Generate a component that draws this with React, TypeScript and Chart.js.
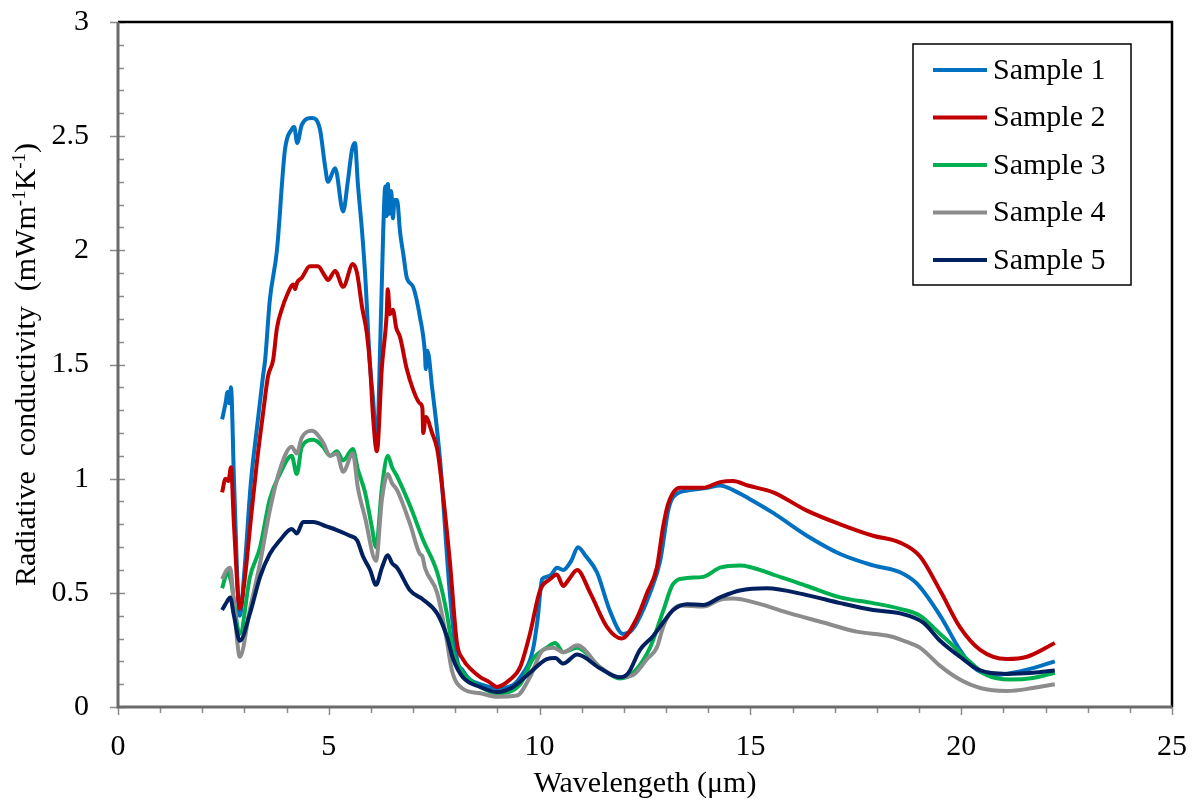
import React, { useEffect, useRef } from "react";
import { Chart, registerables } from "chart.js";

Chart.register(...registerables);

const FONT = "'Liberation Serif', 'Times New Roman', serif";

const seriesNames = ["Sample 1", "Sample 2", "Sample 3", "Sample 4", "Sample 5"];
const seriesColors = ["#0070C0", "#C00000", "#00B050", "#8C8C8C", "#002060"];

const xTitle = "Wavelengeth (μm)";
const yTitleParts: [string, boolean][] = [
  ["Radiative  conductivity  (mWm", false],
  ["-1", true],
  ["K", false],
  ["-1", true],
  [")", false],
];

const wl1 = [2.47, 2.55, 2.6, 2.64, 2.68, 2.75, 2.89, 3.0, 3.15, 3.3, 3.44, 3.49, 3.6, 3.77, 3.96, 4.12, 4.18, 4.25, 4.36, 4.6, 4.79, 4.91, 4.98, 5.15, 5.34, 5.45, 5.55, 5.62, 5.69, 5.79, 5.86, 5.98, 6.05, 6.14, 6.2, 6.29, 6.34, 6.37, 6.4, 6.44, 6.48, 6.52, 6.56, 6.62, 6.69, 6.77, 6.85, 7.0, 7.16, 7.28, 7.3, 7.34, 7.45, 7.64, 7.87, 8.04, 8.18, 8.35, 8.59, 8.99, 9.3, 9.54, 9.84, 9.95, 10.06, 10.17, 10.28, 10.41, 10.56, 10.75, 10.91, 11.1, 11.36, 11.67, 11.98, 12.15, 12.31, 12.62, 12.86, 13.05, 13.17, 13.57, 13.97, 14.28, 14.59, 14.99, 15.54, 16.34, 17.13, 17.91, 18.55, 18.95, 19.5, 19.97, 20.28, 20.76, 21.32, 21.7, 22.22];
const val1 = [1.26, 1.33, 1.38, 1.33, 1.40, 1.0, 0.40, 0.60, 0.98, 1.23, 1.45, 1.52, 1.78, 2.0, 2.44, 2.53, 2.54, 2.47, 2.55, 2.58, 2.53, 2.37, 2.30, 2.36, 2.17, 2.30, 2.44, 2.47, 2.29, 2.08, 1.90, 1.49, 1.35, 1.13, 1.45, 2.08, 2.28, 2.15, 2.29, 2.16, 2.26, 2.14, 2.22, 2.22, 2.08, 1.98, 1.88, 1.84, 1.71, 1.55, 1.48, 1.56, 1.40, 1.08, 0.50, 0.21, 0.16, 0.12, 0.10, 0.083, 0.09, 0.13, 0.25, 0.38, 0.56, 0.57, 0.58, 0.61, 0.60, 0.64, 0.70, 0.66, 0.59, 0.42, 0.32, 0.33, 0.37, 0.50, 0.64, 0.86, 0.92, 0.95, 0.96, 0.97, 0.95, 0.91, 0.85, 0.75, 0.67, 0.62, 0.59, 0.54, 0.40, 0.25, 0.175, 0.14, 0.153, 0.17, 0.20];

const wl2 = [2.47, 2.55, 2.62, 2.68, 2.75, 2.89, 3.0, 3.15, 3.3, 3.45, 3.56, 3.68, 3.77, 3.9, 4.0, 4.16, 4.2, 4.25, 4.36, 4.55, 4.74, 4.9, 4.98, 5.15, 5.34, 5.57, 5.67, 5.79, 5.9, 5.98, 6.05, 6.14, 6.26, 6.37, 6.4, 6.45, 6.52, 6.6, 6.69, 6.85, 7.0, 7.16, 7.22, 7.24, 7.3, 7.45, 7.57, 7.64, 7.87, 8.04, 8.18, 8.4, 8.6, 8.8, 8.99, 9.3, 9.54, 9.77, 10.01, 10.25, 10.41, 10.56, 10.7, 10.89, 11.2, 11.6, 11.95, 12.31, 12.55, 12.78, 12.93, 13.05, 13.33, 13.88, 14.28, 14.59, 14.94, 15.54, 16.34, 17.13, 17.91, 18.55, 19.02, 19.5, 19.97, 20.45, 21.08, 21.56, 22.22];
const val2 = [0.94, 1.0, 0.99, 1.05, 0.80, 0.43, 0.55, 0.82, 1.08, 1.30, 1.45, 1.52, 1.66, 1.75, 1.80, 1.85, 1.83, 1.86, 1.88, 1.93, 1.93, 1.89, 1.87, 1.91, 1.84, 1.94, 1.90, 1.75, 1.64, 1.49, 1.27, 1.12, 1.49, 1.71, 1.83, 1.72, 1.74, 1.66, 1.62, 1.48, 1.39, 1.33, 1.31, 1.20, 1.27, 1.20, 1.13, 1.04, 0.64, 0.28, 0.21, 0.16, 0.13, 0.11, 0.088, 0.12, 0.175, 0.32, 0.51, 0.56, 0.58, 0.53, 0.56, 0.60, 0.50, 0.35, 0.30, 0.39, 0.50, 0.61, 0.79, 0.89, 0.96, 0.96, 0.985, 0.99, 0.97, 0.94, 0.86, 0.80, 0.75, 0.72, 0.66, 0.51, 0.35, 0.25, 0.21, 0.22, 0.28];

const wl3 = [2.47, 2.6, 2.68, 2.89, 3.13, 3.37, 3.6, 3.84, 4.12, 4.24, 4.36, 4.63, 4.86, 5.03, 5.19, 5.34, 5.57, 5.69, 5.86, 6.02, 6.12, 6.26, 6.4, 6.5, 6.62, 6.93, 7.24, 7.57, 7.8, 7.95, 8.18, 8.59, 8.99, 9.54, 9.84, 10.17, 10.37, 10.56, 10.89, 11.43, 11.9, 12.22, 12.62, 12.93, 13.17, 13.5, 13.88, 14.28, 14.75, 15.54, 16.34, 17.13, 17.91, 18.55, 19.02, 19.5, 19.74, 20.13, 20.6, 21.16, 21.7, 22.22];
const val3 = [0.52, 0.59, 0.55, 0.32, 0.57, 0.70, 0.91, 1.02, 1.10, 1.02, 1.14, 1.17, 1.14, 1.10, 1.12, 1.08, 1.13, 1.04, 0.94, 0.79, 0.70, 0.96, 1.10, 1.05, 1.01, 0.88, 0.73, 0.59, 0.41, 0.24, 0.15, 0.088, 0.06, 0.10, 0.21, 0.26, 0.28, 0.24, 0.26, 0.175, 0.125, 0.15, 0.26, 0.42, 0.54, 0.565, 0.57, 0.61, 0.62, 0.58, 0.53, 0.48, 0.455, 0.43, 0.40, 0.32, 0.28, 0.21, 0.14, 0.12, 0.127, 0.15];

const wl4 = [2.47, 2.58, 2.66, 2.75, 2.89, 3.13, 3.37, 3.6, 3.84, 4.12, 4.24, 4.36, 4.6, 4.86, 5.03, 5.19, 5.34, 5.57, 5.69, 5.86, 6.12, 6.26, 6.4, 6.5, 6.62, 6.93, 7.16, 7.22, 7.28, 7.57, 7.8, 7.92, 8.18, 8.59, 8.99, 9.46, 9.77, 10.08, 10.33, 10.56, 10.89, 11.43, 11.9, 12.22, 12.55, 12.78, 12.93, 13.09, 13.33, 13.88, 14.28, 14.59, 15.15, 15.94, 16.73, 17.52, 18.31, 18.71, 19.02, 19.5, 19.97, 20.45, 21.08, 21.7, 22.22];
const val4 = [0.56, 0.60, 0.61, 0.45, 0.22, 0.43, 0.63, 0.86, 1.04, 1.14, 1.11, 1.18, 1.21, 1.16, 1.10, 1.11, 1.03, 1.11, 0.96, 0.83, 0.64, 0.91, 1.02, 0.98, 0.95, 0.80, 0.67, 0.66, 0.61, 0.50, 0.29, 0.16, 0.08, 0.06, 0.045, 0.05, 0.13, 0.25, 0.26, 0.24, 0.27, 0.175, 0.13, 0.14, 0.21, 0.26, 0.35, 0.41, 0.445, 0.44, 0.47, 0.475, 0.455, 0.41, 0.37, 0.33, 0.31, 0.285, 0.26, 0.18, 0.12, 0.083, 0.07, 0.083, 0.10];

const wl5 = [2.47, 2.58, 2.66, 2.75, 2.89, 3.13, 3.37, 3.6, 3.84, 4.12, 4.24, 4.39, 4.63, 4.96, 5.19, 5.5, 5.67, 5.81, 5.98, 6.12, 6.26, 6.4, 6.5, 6.62, 6.93, 7.24, 7.57, 7.8, 7.95, 8.18, 8.59, 8.99, 9.37, 9.77, 10.17, 10.37, 10.56, 10.89, 11.43, 11.9, 12.1, 12.38, 12.69, 12.93, 13.17, 13.5, 13.88, 14.28, 14.75, 15.39, 16.34, 17.13, 17.91, 18.55, 19.1, 19.5, 19.97, 20.45, 21.08, 21.7, 22.22];
const val5 = [0.425, 0.46, 0.48, 0.40, 0.29, 0.41, 0.57, 0.67, 0.73, 0.78, 0.76, 0.81, 0.81, 0.79, 0.775, 0.75, 0.73, 0.66, 0.60, 0.535, 0.61, 0.665, 0.63, 0.61, 0.51, 0.47, 0.41, 0.31, 0.21, 0.13, 0.088, 0.066, 0.088, 0.15, 0.21, 0.215, 0.19, 0.23, 0.17, 0.13, 0.148, 0.25, 0.31, 0.37, 0.425, 0.45, 0.447, 0.48, 0.51, 0.52, 0.49, 0.455, 0.425, 0.41, 0.37, 0.29, 0.22, 0.16, 0.145, 0.15, 0.16];

const framePlugin = {
  id: "frame",
  afterDraw(chart: any) {
    const { ctx, chartArea } = chart;
    const { left, right, top, bottom } = chartArea;
    const xs = chart.scales.x;
    const ys = chart.scales.y;
    ctx.save();
    // ticks
    ctx.strokeStyle = "#8c8c8c";
    ctx.lineWidth = 1.5;
    ctx.beginPath();
    for (let i = 0; i <= 30; i++) {
      const py = Math.round(ys.getPixelForValue(i / 10)) + 0.5;
      if (i % 5 === 0) {
        ctx.moveTo(left - 8, py);
        ctx.lineTo(left + 7, py);
      } else {
        ctx.moveTo(left, py);
        ctx.lineTo(left + 6, py);
      }
    }
    for (let i = 0; i <= 25; i++) {
      const px = Math.round(xs.getPixelForValue(i)) + 0.5;
      ctx.moveTo(px, bottom);
      ctx.lineTo(px, bottom + (i % 5 === 0 ? 8 : 6));
    }
    ctx.stroke();
    // frame: top/right black
    ctx.strokeStyle = "#000";
    ctx.lineWidth = 2.5;
    ctx.beginPath();
    ctx.moveTo(left, top);
    ctx.lineTo(right, top);
    ctx.lineTo(right, bottom);
    ctx.stroke();
    // axes: left/bottom gray
    ctx.strokeStyle = "#6a6a6a";
    ctx.lineWidth = 3;
    ctx.beginPath();
    ctx.moveTo(left, top);
    ctx.lineTo(left, bottom);
    ctx.lineTo(right, bottom);
    ctx.stroke();

    // x title
    ctx.fillStyle = "#000";
    ctx.font = `30px ${FONT}`;
    ctx.textAlign = "center";
    ctx.textBaseline = "alphabetic";
    ctx.fillText(xTitle, (left + right) / 2, 792);

    // y title with superscripts
    ctx.save();
    ctx.translate(26, (top + bottom) / 2);
    ctx.rotate(-Math.PI / 2);
    const mainFont = `30px ${FONT}`;
    const supFont = `19px ${FONT}`;
    let total = 0;
    for (const [t, sup] of yTitleParts) {
      ctx.font = sup ? supFont : mainFont;
      total += ctx.measureText(t).width;
    }
    let cx = -total / 2;
    ctx.textAlign = "left";
    ctx.textBaseline = "alphabetic";
    for (const [t, sup] of yTitleParts) {
      ctx.font = sup ? supFont : mainFont;
      ctx.fillText(t, cx, sup ? -1 : 9);
      cx += ctx.measureText(t).width;
    }
    ctx.restore();

    // legend
    const lx = 913, ly = 44, lw = 218, lh = 241;
    ctx.fillStyle = "#fff";
    ctx.fillRect(lx, ly, lw, lh);
    ctx.strokeStyle = "#000";
    ctx.lineWidth = 1.5;
    ctx.strokeRect(lx, ly, lw, lh);
    ctx.font = `30px ${FONT}`;
    ctx.textAlign = "left";
    ctx.textBaseline = "middle";
    seriesNames.forEach((name, i) => {
      const yy = 70 + i * 47.5;
      ctx.strokeStyle = seriesColors[i];
      ctx.lineWidth = 4;
      ctx.beginPath();
      ctx.moveTo(933, yy);
      ctx.lineTo(987, yy);
      ctx.stroke();
      ctx.fillStyle = "#000";
      ctx.fillText(name, 993, yy + 1);
    });
    ctx.restore();
  },
};

export default function App() {
  const ref = useRef<HTMLCanvasElement>(null);
  useEffect(() => {
    document.body.style.margin = "0";
    const canvas = ref.current;
    if (!canvas) return;
    const series: [number[], number[]][] = [
      [wl1, val1],
      [wl2, val2],
      [wl3, val3],
      [wl4, val4],
      [wl5, val5],
    ];
    const chart = new Chart(canvas, {
      type: "line",
      data: {
        datasets: series.map(([xs, ys], i) => ({
          label: seriesNames[i],
          data: xs.map((x, j) => ({ x, y: ys[j] })),
          borderColor: seriesColors[i],
          backgroundColor: seriesColors[i],
          borderWidth: 4,
          pointRadius: 0,
          cubicInterpolationMode: "monotone" as const,
          fill: false,
          order: 5 - i,
        })),
      },
      options: {
        responsive: false,
        animation: false,
        devicePixelRatio: 1,
        layout: { padding: { top: 22, right: 26, left: 0, bottom: 0 } },
        plugins: { legend: { display: false }, tooltip: { enabled: false } },
        scales: {
          x: {
            type: "linear",
            min: 0,
            max: 25,
            ticks: {
              stepSize: 5,
              autoSkip: false,
              maxRotation: 0,
              color: "#000",
              font: { family: FONT, size: 30 },
              padding: 22,
            },
            grid: { display: false, drawTicks: false, tickLength: 0 },
            border: { display: false },
            afterFit: (s: any) => {
              s.height = 95;
              s.paddingLeft = 0;
              s.paddingRight = 0;
            },
          },
          y: {
            type: "linear",
            min: 0,
            max: 3,
            ticks: {
              stepSize: 0.5,
              color: "#000",
              font: { family: FONT, size: 30 },
              padding: 29,
              callback: (v: any) => String(Number(v)),
            },
            grid: { display: false, drawTicks: false, tickLength: 0 },
            border: { display: false },
            afterFit: (s: any) => {
              s.width = 118;
              s.paddingTop = 0;
              s.paddingBottom = 0;
            },
          },
        },
      },
      plugins: [framePlugin],
    });
    return () => chart.destroy();
  }, []);
  return (
    <div style={{ width: 1198, height: 802 }}>
      <canvas ref={ref} width={1198} height={802} />
    </div>
  );
}
